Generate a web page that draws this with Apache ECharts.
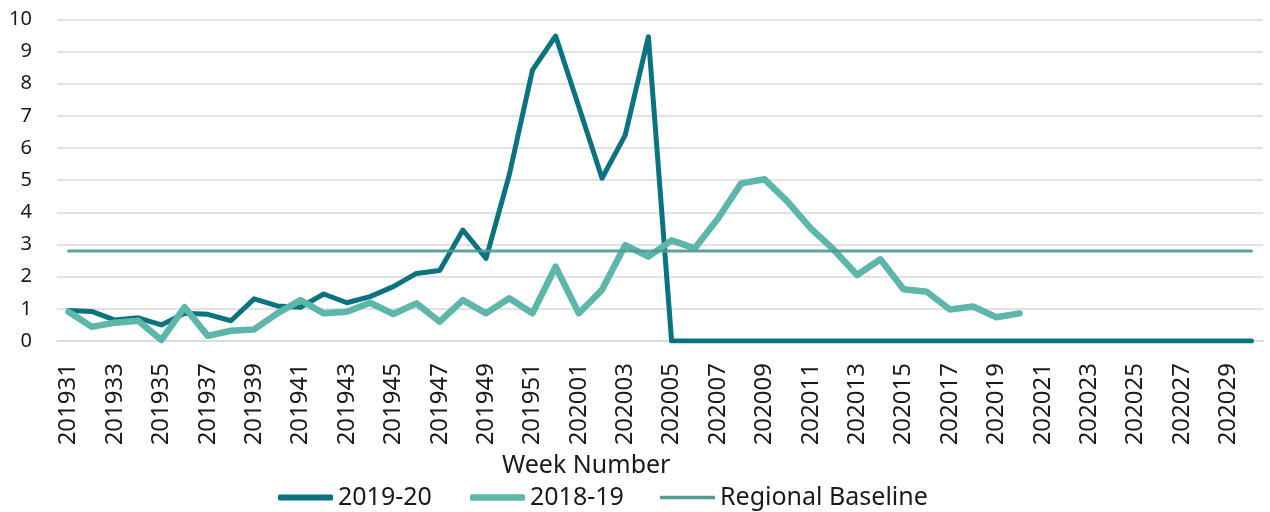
<!DOCTYPE html>
<html>
<head>
<meta charset="utf-8">
<script src="https://cdn.jsdelivr.net/npm/echarts@6/dist/echarts.min.js"></script>
<style>
  html, body { margin: 0; padding: 0; background: #ffffff; }
  #chart { width: 1270px; height: 512px; }
</style>
</head>
<body>
<div id="chart"></div>
<script>
const weeks = [
  '201931','201932','201933','201934','201935','201936','201937','201938','201939','201940',
  '201941','201942','201943','201944','201945','201946','201947','201948','201949','201950',
  '201951','201952','202001','202002','202003','202004','202005','202006','202007','202008',
  '202009','202010','202011','202012','202013','202014','202015','202016','202017','202018',
  '202019','202020','202021','202022','202023','202024','202025','202026','202027','202028',
  '202029','202030'
];

const season2019_20 = [
  0.95, 0.92, 0.65, 0.72, 0.50, 0.86, 0.83, 0.63, 1.31, 1.09,
  1.05, 1.46, 1.19, 1.38, 1.69, 2.10, 2.19, 3.45, 2.57, 5.16,
  8.42, 9.48, 7.28, 5.06, 6.40, 9.46, 0, 0, 0, 0,
  0, 0, 0, 0, 0, 0, 0, 0, 0, 0,
  0, 0, 0, 0, 0, 0, 0, 0, 0, 0,
  0, 0
];

const season2018_19 = [
  0.91, 0.44, 0.57, 0.63, 0.03, 1.05, 0.16, 0.32, 0.36, 0.86,
  1.27, 0.86, 0.91, 1.19, 0.84, 1.17, 0.60, 1.27, 0.86, 1.33,
  0.86, 2.31, 0.86, 1.59, 2.98, 2.62, 3.13, 2.88, 3.81, 4.90,
  5.03, 4.33, 3.50, 2.83, 2.05, 2.54, 1.61, 1.53, 0.98, 1.07,
  0.74, 0.86, null, null, null, null, null, null, null, null,
  null, null
];

const regionalBaseline = [
  2.8, 2.8, 2.8, 2.8, 2.8, 2.8, 2.8, 2.8, 2.8, 2.8,
  2.8, 2.8, 2.8, 2.8, 2.8, 2.8, 2.8, 2.8, 2.8, 2.8,
  2.8, 2.8, 2.8, 2.8, 2.8, 2.8, 2.8, 2.8, 2.8, 2.8,
  2.8, 2.8, 2.8, 2.8, 2.8, 2.8, 2.8, 2.8, 2.8, 2.8,
  2.8, 2.8, 2.8, 2.8, 2.8, 2.8, 2.8, 2.8, 2.8, 2.8,
  2.8, 2.8
];

const seriesNames = ['2019-20', '2018-19', 'Regional Baseline'];
const xAxisTitle = 'Week Number';

const FONT = '"Noto Sans", "Open Sans", sans-serif';
const TEXT = '#1a1a1a';
const C_DARK = '#0b7380';
const C_LIGHT = '#5cb6aa';
const C_BASE = '#4f9a93';

function legendFor(name, left, thickness, color) {
  return {
    left: left,
    top: 485,
    padding: 0,
    itemWidth: 55,
    itemHeight: thickness,
    icon: 'roundRect',
    itemStyle: { color: color },
    textStyle: { fontSize: 25, fontFamily: FONT, color: TEXT },
    data: [name]
  };
}

const chart = echarts.init(document.getElementById('chart'), null, { renderer: 'canvas' });
chart.setOption({
  animation: false,
  backgroundColor: '#ffffff',
  textStyle: { fontFamily: FONT, color: TEXT },
  grid: { left: 57, right: 7, top: 19.3, bottom: 171, containLabel: false },
  xAxis: {
    type: 'category',
    data: weeks,
    boundaryGap: true,
    axisLine: { show: true, lineStyle: { color: '#d9d9d9', width: 1.5 } },
    axisTick: { show: false },
    axisLabel: {
      interval: 1,
      rotate: 90,
      margin: 22,
      fontSize: 24,
      fontFamily: FONT,
      color: TEXT
    },
    splitLine: { show: false }
  },
  yAxis: {
    type: 'value',
    min: 0,
    max: 10,
    interval: 1,
    axisLine: { show: false },
    axisTick: { show: false },
    axisLabel: { fontSize: 20, margin: 25, fontFamily: FONT, color: TEXT },
    splitLine: { show: true, lineStyle: { color: '#d9d9d9', width: 1.5 } }
  },
  legend: [
    legendFor(seriesNames[0], 278, 6, C_DARK),
    legendFor(seriesNames[1], 470, 6.5, C_LIGHT),
    legendFor(seriesNames[2], 660, 3.5, C_BASE)
  ],
  graphic: [{
    type: 'text',
    left: 502,
    top: 453,
    style: { text: xAxisTitle, fontSize: 25, fontFamily: FONT, fill: TEXT }
  }],
  series: [
    {
      name: seriesNames[0],
      type: 'line',
      data: season2019_20,
      symbol: 'none',
      color: C_DARK,
      lineStyle: { width: 5, color: C_DARK, cap: 'round', join: 'round' },
      z: 2
    },
    {
      name: seriesNames[1],
      type: 'line',
      data: season2018_19,
      symbol: 'none',
      color: C_LIGHT,
      lineStyle: { width: 6.5, color: C_LIGHT, cap: 'round', join: 'round' },
      z: 3
    },
    {
      name: seriesNames[2],
      type: 'line',
      data: regionalBaseline,
      symbol: 'none',
      color: C_BASE,
      lineStyle: { width: 3, color: C_BASE, opacity: 0.92, cap: 'round' },
      z: 4
    }
  ]
});
</script>
</body>
</html>
